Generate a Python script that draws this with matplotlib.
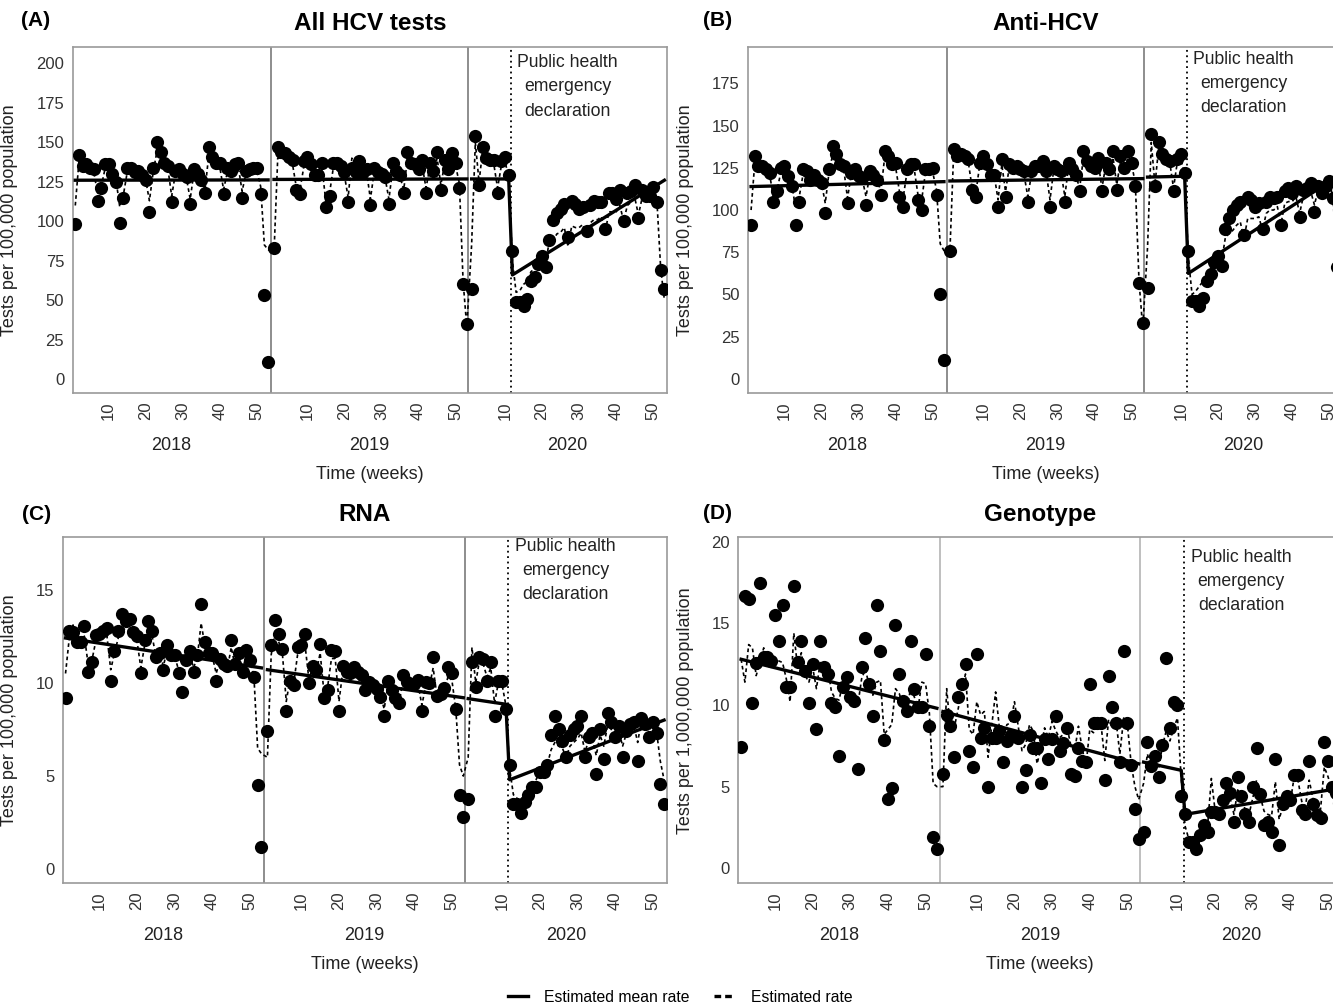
import numpy as np
import matplotlib
matplotlib.use('Agg')
import matplotlib.pyplot as plt
from matplotlib.lines import Line2D

plt.rcParams['font.family'] = ['Liberation Sans', 'DejaVu Sans']

FIG_W, FIG_H = 1333, 1005
Years = ('2018', '2019', '2020')
Year_Offset = (0.0, 53.6, 106.9)     # x position of week 0 of each year
Year_Sep = (53.7, 107.0)
X_Lim = (0.25, 160.6)
Decl_Week = 11.7
Week_Ticks = (10, 20, 30, 40, 50)

# (A) All HCV tests
A_2018 = [98,142,135,136,134,133,113,121,136,136,130,125,99,115,134,134,131,132,129,126,
          106,134,150,144,137,135,112,132,133,130,128,111,133,130,126,118,147,141,137,137,
          117,134,132,136,137,115,132,133,134,134,117,53,11]
A_2019 = [83,147,144,143,141,139,120,117,138,141,136,129,129,137,109,116,137,137,135,131,
          112,134,131,138,131,133,110,134,131,130,128,111,137,132,129,118,144,137,136,133,
          139,118,137,132,144,120,139,133,143,137,121,60,35]
A_2020 = [57,154,123,147,140,139,139,118,138,141,129,
          81,49,49,46,51,62,65,73,78,71,88,101,105,108,111,90,113,111,108,109,94,110,113,
          112,112,95,118,118,114,120,100,118,119,123,102,120,116,116,122,112,69,57]
A_2018_est = [110,138,133,134,132,131,118,122,133,134,129,126,109,117,131,132,130,130,128,126,
              113,131,144,140,135,133,116,130,131,129,127,114,131,129,126,120,142,138,135,134,
              120,131,130,133,134,119,130,131,132,132,122,85,82]
A_2019_est = [80,140,140,139,138,136,122,120,134,137,133,128,127,133,112,118,134,134,132,129,
              115,140,132,135,130,131,114,131,129,128,127,114,133,130,128,120,140,135,134,132,
              135,121,134,131,140,123,136,131,139,135,124,62,33]
A_2020_est = [85,150,125,145,138,137,136,121,135,138,128,
              75,55,56,60,62,68,70,74,78,74,88,88,92,93,96,84,97,96,96,98,90,99,101,
              101,103,92,106,106,106,110,100,110,112,115,104,115,115,116,120,112,70,50]
A_mean = ((126.0, 126.2), (126.5, 126.8), (126.8, 126.8), (66.0, 126.0))

# (B) Anti-HCV
B_2018 = [91,132,126,126,124,122,105,111,125,126,120,114,91,105,124,123,118,121,118,116,
          98,124,138,133,127,126,104,122,124,120,119,103,123,121,118,109,135,132,127,128,
          108,102,124,127,127,106,100,124,124,125,109,50,11]
B_2019 = [76,136,132,133,132,130,112,108,128,132,127,121,121,102,130,108,127,125,126,124,
          123,105,123,126,126,129,123,102,126,124,123,105,128,124,121,111,135,129,126,125,
          131,111,128,124,135,112,132,125,135,128,114,57,33]
B_2020 = [54,145,114,140,133,130,129,111,130,133,122,
          76,46,46,43,48,58,62,69,73,67,89,95,100,103,105,85,108,106,102,104,89,105,108,
          107,108,91,111,113,110,114,96,112,113,116,99,114,110,114,117,107,66,55]
B_2018_est = [100,128,124,124,123,121,108,112,122,123,119,115,101,108,121,121,118,119,117,116,
              104,122,133,130,125,124,107,121,122,119,118,108,121,120,118,111,131,128,125,125,
              111,107,122,124,124,109,106,122,122,122,112,80,76]
B_2019_est = [75,133,130,130,129,128,113,110,126,129,125,120,120,106,127,111,125,124,124,122,
              121,108,121,124,124,127,122,106,124,123,122,108,126,123,120,113,131,127,125,124,
              128,113,126,123,131,115,129,124,131,127,116,58,30]
B_2020_est = [78,140,115,137,131,129,128,113,128,130,121,
              72,50,52,55,58,62,66,70,73,70,84,86,88,91,93,83,95,95,95,96,88,98,100,
              100,102,92,104,105,105,108,98,108,109,111,103,112,112,113,116,108,68,52]
B_mean = ((113.9, 116.8), (117.2, 118.6), (119.5, 120.0), (62.5, 121.0))

# (C) RNA
C_2018 = [9.2,12.8,12.7,12.2,12.2,13.05,10.6,11.1,12.55,12.6,12.8,12.95,10.1,11.7,12.8,13.7,
          13.3,13.4,12.7,12.5,10.5,12.3,13.3,12.8,11.4,11.6,10.7,12.0,11.5,11.5,10.5,9.5,
          11.2,11.7,10.6,11.5,14.2,12.2,11.6,11.6,10.1,11.3,11.0,10.9,12.3,11.0,11.6,10.6,
          11.75,11.2,10.3,4.5,1.2]
C_2019 = [7.4,12.0,13.35,12.6,11.8,8.5,10.1,9.9,11.9,12.05,12.6,10.0,10.9,10.7,12.1,9.2,
          9.6,11.75,11.7,8.5,10.9,10.6,10.5,10.85,10.6,10.4,9.6,10.05,9.9,9.65,9.25,8.2,
          10.1,9.6,9.2,8.9,10.4,10.05,9.95,9.95,10.15,8.5,10.05,10.0,11.4,9.3,9.4,9.7,
          10.85,10.5,8.6,4.0,2.8]
C_2020 = [3.75,11.1,9.8,11.4,11.3,10.1,11.1,8.2,10.1,10.1,8.6,
          5.6,3.5,3.5,3.0,3.6,4.0,4.4,4.4,5.2,5.2,5.6,7.2,8.2,7.5,6.9,6.0,7.2,7.5,7.7,
          8.2,6.0,7.1,7.3,5.1,7.5,5.9,8.4,7.9,7.1,7.7,6.0,7.4,7.8,7.9,5.8,8.1,7.8,7.1,
          7.9,7.3,4.6,3.5]
C_2018_est = [10.5,12.4,13.1,12.3,12.2,12.5,11.0,11.2,12.2,12.3,12.5,12.5,10.7,11.6,12.4,13.0,
              12.8,12.8,12.4,12.2,10.8,12.0,12.8,12.5,11.4,11.5,10.9,11.8,11.4,11.4,10.7,10.1,
              11.1,11.5,10.8,11.4,13.2,12.0,11.5,11.4,10.5,11.2,10.9,10.8,11.9,10.9,11.4,10.7,
              11.5,11.1,10.4,6.5,6.2]
C_2019_est = [6.0,11.5,12.7,12.2,11.5,9.0,10.2,10.0,11.5,11.7,12.0,10.2,10.8,10.6,11.6,9.5,
              9.8,11.3,11.3,9.0,10.6,10.4,10.3,10.6,10.4,10.2,9.7,10.0,9.8,9.6,9.3,8.6,
              9.9,9.5,9.2,9.0,10.1,9.9,9.8,9.8,9.9,8.8,9.8,9.8,10.8,9.3,9.3,9.5,
              10.4,10.1,8.6,5.6,5.0]
C_2020_est = [6.0,11.9,10.0,11.2,11.0,10.3,10.8,8.9,10.0,9.9,8.8,
              5.4,4.0,3.8,3.6,4.0,4.3,4.6,4.8,5.2,5.4,5.6,6.4,6.8,6.6,6.5,6.0,6.6,6.8,7.0,
              7.3,6.3,6.9,7.0,6.1,7.2,6.6,7.7,7.5,7.1,7.4,6.6,7.3,7.6,7.7,6.8,8.0,7.8,7.4,
              7.9,7.4,5.8,4.8]
C_mean = ((12.4, 10.8), (10.7, 9.2), (9.15, 8.85), (4.8, 8.0))

# (D) Genotype, per 1,000,000
D_2018 = [7.45,16.7,16.5,10.1,12.55,17.5,12.95,12.95,12.7,15.5,13.9,16.1,11.1,11.1,17.3,12.65,
          13.9,12.1,10.1,12.5,8.5,13.9,12.35,11.9,10.1,9.9,6.9,11.1,11.7,10.5,10.25,6.05,
          12.3,14.1,11.3,9.3,16.1,13.3,7.85,4.25,4.9,14.9,11.9,10.25,9.65,13.9,11.0,9.9,
          9.9,13.1,8.7,1.9,1.2]
D_2019 = [5.8,9.4,8.7,6.8,10.5,11.3,12.5,7.2,6.2,13.1,7.95,8.6,5.0,7.95,7.95,8.4,6.5,7.8,
          8.15,9.3,8.0,5.0,6.0,8.15,7.35,7.35,5.2,7.9,6.7,7.9,9.3,7.2,7.65,8.6,5.8,5.65,
          7.35,6.6,6.5,11.3,8.9,8.9,8.9,5.4,11.75,9.9,8.9,6.5,13.3,8.9,6.3,3.6,1.8]
D_2020 = [2.2,7.75,6.25,6.85,5.6,7.55,12.9,8.6,10.2,10.0,4.4,
          3.35,1.6,1.6,1.2,2.05,2.65,2.25,3.45,3.45,3.35,4.2,5.2,4.6,2.85,5.6,4.4,3.35,
          2.85,5.0,7.35,4.55,2.65,2.85,2.25,6.7,1.4,3.95,4.4,4.2,5.7,5.7,3.55,3.35,6.6,
          3.95,3.25,3.05,7.75,6.6,5.0,4.6,4.0]
D_2018_est = [12.8,11.4,13.7,13.5,11.8,12.6,13.5,12.9,12.4,12.8,12.7,12.6,11.6,10.2,14.4,12.3,
              13.2,11.8,11.4,12.3,11.0,12.6,12.0,12.3,10.8,10.4,10.3,11.3,11.0,10.6,10.7,10.0,
              11.6,12.2,11.2,10.6,11.4,11.5,8.2,8.5,8.8,11.0,10.7,10.0,9.7,11.0,10.5,9.8,
              11.4,11.3,9.5,5.2,5.0]
D_2019_est = [5.0,11.0,8.4,8.6,9.7,10.9,11.9,8.5,8.2,10.2,9.4,9.6,6.8,8.8,10.8,8.6,8.0,8.8,
              8.9,10.2,8.7,7.2,7.6,8.8,8.4,6.4,7.3,8.6,8.0,9.0,8.4,8.0,8.2,8.6,7.5,7.2,
              8.7,7.3,6.3,8.5,8.3,9.0,8.8,6.6,9.1,8.6,9.0,7.0,9.2,8.8,6.4,5.0,4.2]
D_2020_est = [5.2,7.0,6.3,7.0,6.1,7.5,8.4,7.8,8.6,9.2,5.5,
              2.6,1.8,1.7,1.9,2.4,2.7,2.6,5.5,3.5,3.4,4.0,4.6,4.3,3.3,4.8,4.2,3.6,3.3,
              4.3,5.4,4.4,3.5,3.3,3.2,5.3,3.0,3.8,4.3,4.1,5.6,5.4,4.1,3.8,5.4,4.2,3.7,3.6,
              6.2,5.6,4.8,4.4,4.0]
D_mean = ((12.8, 9.8), (9.6, 6.4), (6.5, 6.0), (3.3, 4.9))

Note_Text = 'Public health\nemergency\ndeclaration'


def px_box(left, right, top, bottom):
    ''' pixel box -> figure fraction rect '''
    return [left / FIG_W, 1 - bottom / FIG_H, (right - left) / FIG_W, (bottom - top) / FIG_H]


def plot_panel(ax, obs, est, mean, ylim, yticks, ylab, ylab_x, sep_color, note_y):
    xs = [off + np.arange(1, len(v) + 1) for off, v in zip(Year_Offset, obs)]
    xall = np.concatenate(xs)
    ax.plot(xall, np.concatenate(obs), 'o', color='black', ms=9.5, mew=0, zorder=3)
    ax.plot(xall, np.concatenate(est), color='black', lw=1.2,
            ls=(0, (2.2, 1.8)), zorder=4)
    for k in range(2):
        ax.plot([xs[k][0], xs[k][-1]], mean[k], color='black', lw=2.4, zorder=5)
    x20 = xs[2]
    ax.plot([x20[0], x20[10], x20[11], x20[-1]],
            [mean[2][0], mean[2][1], mean[3][0], mean[3][1]],
            color='black', lw=2.4, zorder=5)

    for s in Year_Sep:
        ax.axvline(s, color=sep_color, lw=1.2, zorder=1)
    ax.axvline(Year_Offset[2] + Decl_Week, color='black', ls=(0, (1, 2)), lw=1.3, zorder=1)

    ax.set_xlim(*X_Lim)
    ax.set_ylim(*ylim)
    ax.set_yticks(yticks)
    ax.set_yticklabels([str(t) for t in yticks], fontsize=12, color='#333333')
    ticks = [off + w for off in Year_Offset for w in Week_Ticks]
    ax.set_xticks(ticks)
    ax.set_xticklabels([str(w) for _ in Year_Offset for w in Week_Ticks],
                       rotation=90, fontsize=12, color='#333333')
    ax.tick_params(length=0, pad=6)
    for sp in ax.spines.values():
        sp.set_color('#9a9a9a')
        sp.set_linewidth(1.2)

    bounds = (X_Lim[0],) + Year_Sep + (X_Lim[1],)
    tr = ax.get_xaxis_transform()
    for k, yr in enumerate(Years):
        ax.text((bounds[k] + bounds[k + 1]) / 2, -0.15, yr, transform=tr,
                ha='center', va='center', fontsize=13, color='#222222')
    ax.text(0.5, -0.234, 'Time (weeks)', transform=ax.transAxes,
            ha='center', va='center', fontsize=13, color='#222222')
    ax.text((bounds[2] + bounds[3]) / 2, note_y, Note_Text, transform=tr,
            ha='center', va='center', fontsize=12.7, linespacing=1.55, color='#222222')
    ax.set_ylabel(ylab, fontsize=13, color='#222222')
    ax.yaxis.set_label_coords(ylab_x, 0.5)


fig = plt.figure(figsize=(FIG_W / 100, FIG_H / 100), dpi=100)

panels = [
    dict(box=(72.5, 667, 46.7, 393.3), obs=(A_2018, A_2019, A_2020),
         est=(A_2018_est, A_2019_est, A_2020_est), mean=A_mean, ylim=(-9, 210.6),
         yticks=list(range(0, 201, 25)), ylab='Tests per 100,000 population', ylab_x=-0.092,
         sep='#7a7a7a', note_y=0.884, letter='(A)', title='All HCV tests', lx=21, ly=20),
    dict(box=(748.3, 1343, 46.7, 393.3), obs=(B_2018, B_2019, B_2020),
         est=(B_2018_est, B_2019_est, B_2020_est), mean=B_mean, ylim=(-8.5, 196.7),
         yticks=list(range(0, 176, 25)), ylab='Tests per 100,000 population', ylab_x=-0.091,
         sep='#7a7a7a', note_y=0.893, letter='(B)', title='Anti-HCV', lx=703, ly=20),
    dict(box=(62.7, 666.7, 537.3, 883.3), obs=(C_2018, C_2019, C_2020),
         est=(C_2018_est, C_2019_est, C_2020_est), mean=C_mean, ylim=(-0.75, 17.8),
         yticks=[0, 5, 10, 15], ylab='Tests per 100,000 population', ylab_x=-0.074,
         sep='#7a7a7a', note_y=0.905, letter='(C)', title='RNA', lx=22, ly=514),
    dict(box=(738.3, 1342, 537.3, 883.3), obs=(D_2018, D_2019, D_2020),
         est=(D_2018_est, D_2019_est, D_2020_est), mean=D_mean, ylim=(-0.92, 20.27),
         yticks=[0, 5, 10, 15, 20], ylab='Tests per 1,000,000 population', ylab_x=-0.073,
         sep='#b4b4b4', note_y=0.873, letter='(D)', title='Genotype', lx=703, ly=513),
]

for p in panels:
    l, r, t, b = p['box']
    ax = fig.add_axes(px_box(l, r, t, b))
    plot_panel(ax, p['obs'], p['est'], p['mean'], p['ylim'], p['yticks'],
               p['ylab'], p['ylab_x'], p['sep'], p['note_y'])
    ax.text(0.5, 1 + 23 / (b - t), p['title'], transform=ax.transAxes,
            ha='center', va='center', fontsize=17.5, fontweight='bold')
    fig.text(p['lx'] / FIG_W, 1 - p['ly'] / FIG_H, p['letter'],
             ha='left', va='center', fontsize=15, fontweight='bold')

handles = [Line2D([], [], color='black', lw=2.4),
           Line2D([], [], color='black', lw=2.4, ls=(0, (2, 1.2)))]
fig.legend(handles, ['Estimated mean rate', 'Estimated rate'], loc='center',
           bbox_to_anchor=(680 / FIG_W, 8 / FIG_H), ncol=2, frameon=False,
           fontsize=11.3, handlelength=1.3, handletextpad=1.0, columnspacing=1.6)

fig.savefig('out.png', dpi=100)
